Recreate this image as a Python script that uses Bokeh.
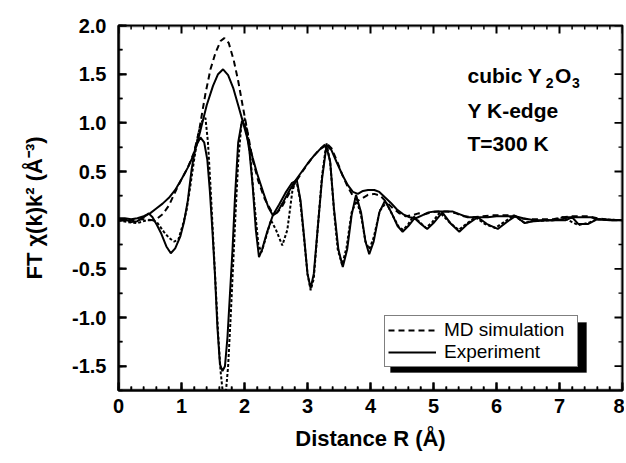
import numpy as np
from bokeh.plotting import figure
from bokeh.models import (SingleIntervalTicker, PrintfTickFormatter,
                          Legend, LegendItem, Label, BoxAnnotation)
from bokeh.embed import file_html
from bokeh.resources import INLINE

# ---------------- data ----------------
exp_mag_r = [0.0, 0.1, 0.2, 0.3, 0.4, 0.5, 0.6, 0.7, 0.8, 0.9, 1.0, 1.1, 1.2, 1.3, 1.4, 1.5,
             1.58, 1.66, 1.74, 1.82, 1.9, 1.97, 2.05, 2.13, 2.2, 2.3, 2.38, 2.45, 2.52, 2.6,
             2.7, 2.8, 2.9, 3.0, 3.1, 3.2, 3.3, 3.38, 3.46, 3.55, 3.64, 3.72, 3.8, 3.88, 3.96,
             4.06, 4.14, 4.22, 4.32, 4.42, 4.52, 4.62, 4.72, 4.82, 4.92, 5.02, 5.15, 5.3,
             5.42, 5.54, 5.7, 5.86, 6.0, 6.15, 6.3, 6.42, 6.6, 6.9, 7.05, 7.12, 7.3, 7.5,
             7.6, 7.8, 8.0]
exp_mag = [0.02, 0.02, 0.01, 0.02, 0.04, 0.07, 0.12, 0.17, 0.23, 0.31, 0.42, 0.54, 0.68, 0.92,
           1.18, 1.38, 1.50, 1.55, 1.49, 1.36, 1.18, 1.02, 0.83, 0.64, 0.48, 0.28, 0.13, 0.05,
           0.08, 0.17, 0.29, 0.40, 0.49, 0.58, 0.66, 0.73, 0.77, 0.72, 0.60, 0.47, 0.36, 0.29,
           0.27, 0.30, 0.31, 0.31, 0.29, 0.24, 0.18, 0.11, 0.06, 0.03, 0.02, 0.05, 0.08, 0.09,
           0.09, 0.09, 0.06, 0.03, 0.03, 0.03, 0.04, 0.04, 0.04, 0.02, 0.0, 0.0, 0.01, 0.03,
           0.03, 0.03, 0.01, 0.0, 0.0]

exp_im_r = [0.0, 0.1, 0.2, 0.3, 0.4, 0.48, 0.54, 0.61, 0.68, 0.76, 0.83, 0.9, 0.98, 1.04, 1.1,
            1.16, 1.22, 1.3, 1.36, 1.41, 1.45, 1.49, 1.53, 1.57, 1.61, 1.65, 1.69, 1.73, 1.77,
            1.81, 1.85, 1.9, 1.96, 2.02, 2.08, 2.13, 2.18, 2.23, 2.28, 2.36, 2.45, 2.55, 2.65,
            2.75, 2.83, 2.89, 2.95, 3.0, 3.05, 3.1, 3.16, 3.23, 3.3, 3.36, 3.42, 3.49, 3.56,
            3.63, 3.7, 3.77, 3.85, 3.92, 3.98, 4.05, 4.14, 4.23, 4.33, 4.43, 4.51, 4.6, 4.7,
            4.8, 4.9, 5.0, 5.14, 5.28, 5.41, 5.54, 5.7, 5.85, 6.02, 6.16, 6.3, 6.45, 6.6, 6.8,
            7.1, 7.2, 7.3, 7.45, 7.6, 8.0]
exp_im = [0.0, 0.01, -0.02, -0.01, 0.03, 0.07, 0.03, -0.05, -0.14, -0.27, -0.34, -0.29, -0.17,
          -0.02, 0.2, 0.52, 0.75, 0.85, 0.8, 0.62, 0.3, -0.1, -0.55, -1.1, -1.48, -1.55, -1.5,
          -1.2, -0.75, -0.3, 0.25, 0.8, 1.02, 0.95, 0.7, 0.35, -0.1, -0.38, -0.3, -0.12, 0.05,
          0.16, 0.28, 0.38, 0.41, 0.2, -0.2, -0.55, -0.7, -0.55, -0.1, 0.42, 0.76, 0.6, 0.12,
          -0.3, -0.48, -0.3, 0.05, 0.26, 0.08, -0.22, -0.35, -0.22, 0.08, 0.2, 0.08, -0.06,
          -0.12, -0.06, 0.02, -0.04, -0.09, -0.03, 0.08, -0.04, -0.12, -0.04, 0.03, -0.04,
          -0.09, -0.02, 0.04, -0.03, -0.01, 0.0, 0.0, 0.03, -0.04, -0.04, 0.01, 0.0]

md_mag_r = [0.0, 0.2, 0.4, 0.55, 0.62, 0.7, 0.8, 0.9, 1.0, 1.1, 1.2, 1.28, 1.38, 1.46, 1.54,
            1.62, 1.68, 1.75, 1.83, 1.9, 1.97, 2.05, 2.13, 2.22, 2.32, 2.42, 2.5, 2.58, 2.68,
            2.8, 2.92, 3.05, 3.18, 3.3, 3.38, 3.46, 3.55, 3.64, 3.72, 3.8, 3.88, 3.96, 4.06,
            4.16, 4.26, 4.36, 4.46, 4.56, 4.66, 4.76, 4.86, 4.96, 5.08, 5.22, 5.36, 5.48,
            5.62, 5.78, 5.95, 6.1, 6.25, 6.38, 6.5, 6.9, 7.05, 7.2, 7.45, 7.6, 7.8, 8.0]
md_mag = [0.01, 0.0, 0.01, 0.0, 0.02, 0.06, 0.15, 0.29, 0.42, 0.54, 0.7, 0.92, 1.3, 1.55, 1.72,
          1.84, 1.87, 1.82, 1.64, 1.43, 1.18, 0.9, 0.62, 0.4, 0.22, 0.1, 0.07, 0.12, 0.24,
          0.38, 0.5, 0.62, 0.72, 0.79, 0.74, 0.62, 0.47, 0.34, 0.25, 0.2, 0.23, 0.26, 0.27,
          0.25, 0.18, 0.12, 0.07, 0.04, 0.05, 0.07, 0.06, 0.08, 0.09, 0.09, 0.07, 0.04, 0.03,
          0.04, 0.05, 0.05, 0.05, 0.02, 0.01, 0.01, 0.03, 0.04, 0.04, 0.02, 0.0, 0.0]

md_im_r = [0.0, 0.15, 0.3, 0.45, 0.55, 0.62, 0.72, 0.8, 0.88, 0.95, 1.02, 1.08, 1.14, 1.2,
           1.27, 1.33, 1.38, 1.42, 1.46, 1.5, 1.54, 1.58, 1.62, 1.66, 1.7, 1.74, 1.78, 1.82,
           1.86, 1.9, 1.95, 2.0, 2.05, 2.1, 2.16, 2.22, 2.27, 2.33, 2.42, 2.5, 2.6, 2.68,
           2.76, 2.82, 2.88, 2.94, 3.0, 3.05, 3.1, 3.16, 3.23, 3.3, 3.36, 3.42, 3.48, 3.55,
           3.62, 3.7, 3.78, 3.85, 3.92, 3.98, 4.05, 4.15, 4.25, 4.35, 4.45, 4.52, 4.6, 4.68,
           4.78, 4.88, 4.98, 5.1, 5.25, 5.4, 5.52, 5.66, 5.82, 5.98, 6.12, 6.28, 6.45, 6.55,
           6.9, 7.05, 7.2, 7.3, 7.45, 7.6, 8.0]
md_im = [0.0, -0.02, -0.03, 0.0, 0.0, -0.03, -0.12, -0.18, -0.22, -0.2, -0.05, 0.1, 0.35,
         0.62, 0.9, 1.02, 1.05, 0.8, 0.35, -0.15, -0.65, -1.15, -1.55, -1.8, -1.8, -1.5, -1.0,
         -0.45, 0.1, 0.6, 0.98, 1.05, 0.9, 0.6, 0.15, -0.25, -0.33, -0.2, 0.0, -0.1, -0.26,
         -0.1, 0.3, 0.42, 0.22, -0.15, -0.55, -0.72, -0.6, -0.1, 0.45, 0.79, 0.6, 0.1, -0.3,
         -0.46, -0.28, 0.08, 0.2, 0.05, -0.22, -0.3, -0.18, 0.1, 0.18, 0.05, -0.07, -0.1,
         -0.04, 0.04, -0.02, -0.08, -0.02, 0.08, -0.02, -0.1, -0.04, 0.03, -0.04, -0.08,
         -0.02, 0.05, -0.03, -0.01, 0.0, 0.03, -0.02, -0.05, -0.03, 0.01, 0.0]

x_tick_interval = 1
y_tick_interval = 0.5
series_labels = ["MD simulation", "Experiment"]

FONT = "Liberation Sans"
X0, X1, Y0, Y1 = 0, 8, -1.75, 2.0
W, H = 624, 461
BL, BR, BT, BB = 118, 2, 25, 71
FRAME_W, FRAME_H = W - BL - BR, H - BT - BB

p = figure(width=W, height=H, x_range=(X0, X1), y_range=(Y0, Y1),
           output_backend="svg", toolbar_location=None,
           min_border_left=BL, min_border_right=BR, min_border_top=BT, min_border_bottom=BB,
           x_axis_label="Distance R (Å)", y_axis_label="FT χ(k)k² (Å⁻³)")
p.grid.visible = False
p.outline_line_color = "black"
p.outline_line_width = 2

xb = p.below[0]
yl = p.left[0]

xb.ticker = SingleIntervalTicker(interval=x_tick_interval, num_minor_ticks=5)
yl.ticker = SingleIntervalTicker(interval=y_tick_interval, num_minor_ticks=2)
yl.formatter = PrintfTickFormatter(format="%.1f")

for ax in [xb, yl]:
    ax.axis_line_width = 2
    ax.axis_line_color = "black"
    ax.major_tick_in = 8
    ax.major_tick_out = 0
    ax.minor_tick_in = 4
    ax.minor_tick_out = 0
    ax.major_tick_line_width = 2
    ax.minor_tick_line_width = 1.5
    ax.major_tick_line_color = "black"
    ax.minor_tick_line_color = "black"
    ax.major_label_text_font = FONT
    ax.major_label_text_font_style = "bold"
    ax.major_label_text_font_size = "20px"
    ax.major_label_text_color = "black"
    ax.axis_label_text_font = FONT
    ax.axis_label_text_font_style = "bold"
    ax.axis_label_text_font_size = "22px"
    ax.axis_label_text_color = "black"

xb.major_label_standoff = 8
xb.axis_label_standoff = 10
yl.major_label_standoff = 12
yl.axis_label_standoff = 22

r_md = p.line(md_mag_r, md_mag, line_color="black", line_width=2, line_dash="6 4")
p.line(md_im_r, md_im, line_color="black", line_width=2, line_dash="3 2")
r_exp = p.line(exp_mag_r, exp_mag, line_color="black", line_width=2)
p.line(exp_im_r, exp_im, line_color="black", line_width=2)

# ---- frame box and inward ticks on all four sides (drawn as annotations) ----
SCR = dict(left_units="screen", right_units="screen", bottom_units="screen", top_units="screen")
p.add_layout(BoxAnnotation(left=1, right=FRAME_W - 1, bottom=1, top=FRAME_H - 1,
                           fill_alpha=0, line_color="black", line_width=2, **SCR))

x_major = np.arange(X0, X1 + 1e-9, x_tick_interval)
x_minor = [v for v in np.arange(X0, X1 + 1e-9, x_tick_interval / 5)
           if abs(v / x_tick_interval - round(v / x_tick_interval)) > 1e-6]
y_major = np.arange(-1.5, Y1 + 1e-9, y_tick_interval)
y_minor = [v for v in np.arange(Y0, Y1 + 1e-9, y_tick_interval / 2)
           if abs(v / y_tick_interval - round(v / y_tick_interval)) > 1e-6]

dx = 0.016  # tick half-thickness in data units
dy = 0.009
for ticks, length, hw in [(x_major, 8, dx), (x_minor, 4, dx * 0.75)]:
    for v in ticks:
        for b, t in [(0, length), (FRAME_H - length, FRAME_H)]:
            p.add_layout(BoxAnnotation(left=v - hw, right=v + hw, bottom=b, top=t,
                                       left_units="data", right_units="data",
                                       bottom_units="screen", top_units="screen",
                                       fill_color="black", fill_alpha=1.0, line_alpha=0))
for ticks, length, hh in [(y_major, 8, dy), (y_minor, 4, dy * 0.75)]:
    for v in ticks:
        for l, r in [(0, length), (FRAME_W - length, FRAME_W)]:
            p.add_layout(BoxAnnotation(bottom=v - hh, top=v + hh, left=l, right=r,
                                       bottom_units="data", top_units="data",
                                       left_units="screen", right_units="screen",
                                       fill_color="black", fill_alpha=1.0, line_alpha=0))

# legend drop shadow (screen px relative to the frame)
shadow = BoxAnnotation(left=272, right=468, bottom=18, top=68,
                       fill_color="black", fill_alpha=1.0, line_color="black", **SCR)
p.add_layout(shadow)

legend = Legend(items=[LegendItem(label=series_labels[0], renderers=[r_md]),
                       LegendItem(label=series_labels[1], renderers=[r_exp])],
                location=(266, 23))
legend.border_line_color = "black"
legend.border_line_width = 1
legend.background_fill_color = "white"
legend.background_fill_alpha = 1.0
legend.label_text_font = FONT
legend.label_text_font_size = "19px"
legend.label_text_color = "black"
legend.glyph_width = 48
legend.glyph_height = 22
legend.label_height = 22
legend.label_width = 130
legend.label_standoff = 8
legend.padding = 3
legend.spacing = 0
legend.margin = 0
p.add_layout(legend, "center")

# annotation text
for txt, yy in [("cubic Y", 1.49), ("Y K-edge", 1.13), ("T=300 K", 0.79)]:
    p.add_layout(Label(x=5.54, y=yy, text=txt, text_font=FONT, text_font_style="bold",
                       text_font_size="21px", text_color="black", text_baseline="alphabetic"))
p.add_layout(Label(x=6.78, y=1.41, text="2", text_font=FONT, text_font_style="bold",
                   text_font_size="14px", text_color="black", text_baseline="alphabetic"))
p.add_layout(Label(x=6.93, y=1.49, text="O", text_font=FONT, text_font_style="bold",
                   text_font_size="21px", text_color="black", text_baseline="alphabetic"))
p.add_layout(Label(x=7.2, y=1.41, text="3", text_font=FONT, text_font_style="bold",
                   text_font_size="14px", text_color="black", text_baseline="alphabetic"))

open("out.html", "w").write(file_html(p, INLINE))
